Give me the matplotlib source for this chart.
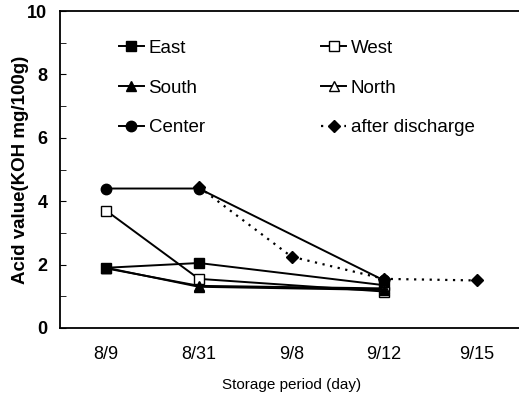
import matplotlib
matplotlib.use('Agg')
import matplotlib.pyplot as plt
from matplotlib.ticker import MultipleLocator
import numpy as np

plt.rcParams['font.family'] = ['Liberation Sans', 'DejaVu Sans']

dates = ['8/9', '8/31', '9/8', '9/12', '9/15']
x_main = [0, 1, 3]          # 8/9, 8/31, 9/12
x_after = [1, 2, 3, 4]      # 8/31, 9/8, 9/12, 9/15

east = [1.9, 2.05, 1.35]
west = [3.7, 1.55, 1.15]
south = [1.9, 1.3, 1.2]
north = [1.88, 1.33, 1.25]
center = [4.4, 4.4, 1.5]
after_discharge = [4.45, 2.25, 1.55, 1.5]

fig = plt.figure(figsize=(5.19, 4.01), dpi=100)
ax = fig.add_axes([60 / 519, 73 / 401, 463 / 519, 317 / 401])

ms = 7.5
h_e, = ax.plot(x_main, east, color='black', lw=1.4, marker='s', ms=ms, label='East')
h_w, = ax.plot(x_main, west, color='black', lw=1.4, marker='s', ms=ms,
               markerfacecolor='white', label='West')
h_n, = ax.plot(x_main, north, color='black', lw=1.4, marker='^', ms=ms,
               markerfacecolor='white', label='North')
h_s, = ax.plot(x_main, south, color='black', lw=1.4, marker='^', ms=ms, label='South')
h_c, = ax.plot(x_main, center, color='black', lw=1.4, marker='o', ms=ms, label='Center')
h_a, = ax.plot(x_after, after_discharge, color='black', lw=1.6, ls=(0, (1, 2.5)),
               marker='D', ms=6.5, label='after discharge')

ax.set_xlim(-0.5, 4.5)
ax.set_ylim(0, 10)
ax.set_xticks(range(len(dates)))
ax.set_xticklabels(dates, fontsize=13)
ax.tick_params(axis='x', length=0, pad=13)
ax.yaxis.set_major_locator(MultipleLocator(2))
ax.yaxis.set_minor_locator(MultipleLocator(1))
ax.tick_params(axis='y', which='both', direction='in', length=4, labelsize=13, pad=9)
for lbl in ax.get_yticklabels():
    lbl.set_fontweight('bold')
for sp in ax.spines.values():
    sp.set_linewidth(1.3)
ax.spines['right'].set_visible(False)

ax.set_xlabel('Storage period (day)', fontsize=11, labelpad=11)
ax.set_ylabel('Acid value(KOH mg/100g)', fontsize=13.5, fontweight='bold')
ax.yaxis.set_label_coords(-0.068, 0.5)

ax.legend([h_e, h_s, h_c, h_w, h_n, h_a],
          ['East', 'South', 'Center', 'West', 'North', 'after discharge'],
          ncol=2, frameon=False, loc='upper left', bbox_to_anchor=(0.09, 0.962),
          fontsize=13.5, handlelength=1.35, handletextpad=0.25,
          labelspacing=1.2, columnspacing=6.2)

fig.savefig('out.png', dpi=100, facecolor='white')
